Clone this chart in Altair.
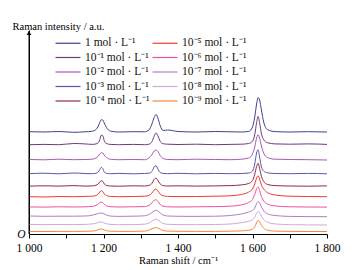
import altair as alt
import pandas as pd

# Raman shift grid (cm-1) at which the spectra were read
shift = [1000, 1040, 1080, 1120, 1150, 1170, 1180, 1186, 1190, 1194, 1198, 1202, 1208, 1218,
         1240, 1280, 1310, 1322, 1330, 1336, 1341, 1346, 1352, 1360, 1372, 1400, 1450, 1500,
         1540, 1570, 1590, 1600, 1606, 1611, 1615, 1619, 1624, 1630, 1640, 1660, 1700, 1750, 1800]

labels = ["1 mol · L⁻¹", "10⁻¹ mol · L⁻¹", "10⁻² mol · L⁻¹", "10⁻³ mol · L⁻¹", "10⁻⁴ mol · L⁻¹",
          "10⁻⁵ mol · L⁻¹", "10⁻⁶ mol · L⁻¹", "10⁻⁷ mol · L⁻¹", "10⁻⁸ mol · L⁻¹", "10⁻⁹ mol · L⁻¹"]
colors = ["#4a3c8c", "#6e3a78", "#a958b8", "#5b55b0", "#8b2a4a",
          "#f23a2e", "#f0509a", "#b47cc4", "#d7a6dc", "#f4893a"]

# vertical offset of each (stacked) spectrum
offsets = [102, 89.3, 74, 60, 47.6, 37, 26.6, 17, 8.8, 2.3]

s1 = [0.3, 0, 0.5, -0.3, 0.2, 0.8, 2.5, 6, 9.5, 12.3, 12, 9, 4.5, 1, 0, 0.3, 0.2, 2, 8, 14.5, 17.5, 14,
      6.5, 1.5, 2, 0.5, 0, 0.5, 0.2, 0, 0.6, 5, 15, 28, 34.4, 32, 22, 10, 2.5, 0.4, 0, 0.3, 0]
s2 = [0, 0.3, 0, 1.2, 0.8, 0.3, 0.8, 2, 5, 9.5, 9, 4, 1.2, 0.3, 0, 0.3, 0, 0.5, 3, 8.5, 11.7, 9,
      3.5, 1, 0.5, 0.2, 0.5, 0, 0.3, 0.5, 1.2, 3.5, 10, 22, 28.3, 22, 11, 5, 2, 0.8, 0.5, 0.8, 0.3]
s3 = [0.5, 0.2, 0.8, 0.3, 0.5, 0.8, 2, 4, 6, 7.3, 7, 5, 2.5, 0.8, 0.3, 0.5, 0.3, 2, 5.5, 9, 10, 8.5,
      4.5, 1.5, 0.5, 0.3, 0.8, 0.5, 0.3, 0.8, 2, 6, 13, 22, 25.3, 22, 14, 7, 2.5, 0.8, 0.5, 0.3, 0]
s4 = [0.3, 0.8, 0.2, 1, 0.5, 0.3, 0.8, 2, 4.5, 6.5, 5.5, 2, 0.7, 0.3, 0.6, 0.2, 0.5, 0.8, 2.5, 7, 8.3, 5,
      1.5, 0.6, 0.3, 0.7, 0.2, 0.6, 0.3, 0.5, 1, 3, 10, 21, 24.3, 17, 7, 3, 1.2, 0.5, 0.3, 0.6, 0.2]
s5 = [0.2, 0.6, 0.3, 0.8, 0.3, 0.5, 1.2, 2.5, 4.5, 5.7, 5, 2.5, 1, 0.4, 0.2, 0.6, 0.4, 1, 3, 7, 8.3, 6,
      2.5, 0.8, 0.4, 0.6, 0.3, 0.5, 0.8, 1.5, 3, 6, 12, 20, 23, 18, 10, 5, 2, 0.8, 0.4, 0.2, 0.5]
s6 = [0.3, 0, 0.5, 0.3, 0.6, 0.8, 1.5, 3, 5, 6.3, 5.5, 3, 1.5, 0.6, 0.3, 0.5, 0.8, 1.5, 4, 7, 8, 6,
      3, 1.2, 0.6, 0.4, 0.5, 0.8, 1.2, 2.5, 5, 8, 13, 19, 21.3, 18, 12, 8, 4.5, 2, 0.8, 0.5, 0.3]
s7 = [0.5, 0.3, 0.6, 0.4, 0.6, 1, 2, 3.5, 4.8, 5.3, 4.8, 3, 1.5, 0.7, 0.4, 0.6, 0.8, 2, 4.5, 7, 7.7, 6,
      3, 1.2, 0.6, 0.4, 0.6, 0.8, 1.2, 2.5, 5, 8, 13, 18.5, 20.4, 17, 11, 6.5, 3.5, 1.5, 0.6, 0.4, 0.3]
s8 = [1, 0.7, 0.8, 0.8, 1, 1.8, 2.8, 3.5, 3.9, 4, 3.7, 3, 2, 1, 0.6, 0.8, 1.2, 2.5, 4.5, 6, 6.7, 6,
      4, 2, 1, 0.7, 0.6, 0.8, 1.5, 3, 5, 6.5, 9, 13.5, 15.6, 14, 10, 6, 3.2, 1.5, 0.6, 0.4, 0.3]
s9 = [0.8, 0.6, 0.7, 0.6, 0.8, 1.3, 2, 2.8, 3.2, 3.3, 3, 2.3, 1.5, 0.8, 0.5, 0.6, 1, 2.2, 4, 5.5, 6, 5.2,
      3.5, 1.8, 0.9, 0.6, 0.5, 0.7, 1.2, 2.5, 4, 5.5, 8, 12, 13.8, 12.5, 9, 5.5, 3, 1.3, 0.5, 0.3, 0.2]
s10 = [0.3, 0.2, 0.3, 0.3, 0.4, 0.6, 1.2, 2, 2.5, 2.7, 2.5, 1.8, 1, 0.5, 0.3, 0.3, 0.6, 1.5, 3, 3.8, 4, 3.6,
       2.5, 1.2, 0.6, 0.4, 0.3, 0.3, 0.5, 0.8, 1.5, 2.5, 5, 9, 11.3, 10, 6.5, 3.5, 1.5, 0.6, 0.3, 0.2, 0.2]

spectra = [s1, s2, s3, s4, s5, s6, s7, s8, s9, s10]

rows = []
for lab, off, spec in zip(labels, offsets, spectra):
    for x, v in zip(shift, spec):
        rows.append({"shift": x, "intensity": off + v, "series": lab})
df = pd.DataFrame(rows)

SERIF = "Liberation Serif"

lines = alt.Chart(df).mark_line(strokeWidth=1, interpolate="monotone").encode(
    x=alt.X("shift:Q",
            scale=alt.Scale(domain=[1000, 1800], nice=False, zero=False),
            axis=alt.Axis(values=list(range(1000, 1801, 100)),
                          labelExpr="datum.value % 200 == 0 ? replace(format(datum.value, ','), ',', ' ') : ''",
                          title="Raman shift / cm⁻¹", grid=False, tickSize=4, labelFlush=False,
                          labelPadding=4, titlePadding=2)),
    y=alt.Y("intensity:Q",
            scale=alt.Scale(domain=[0, 204], nice=False),
            axis=alt.Axis(values=[0], labelExpr="'O'", ticks=False, grid=False,
                          labelFontStyle="italic", labelPadding=4,
                          title="Raman intensity / a.u.", titleAngle=0,
                          titleAlign="left", titleBaseline="alphabetic",
                          titleX=-17, titleY=-1)),
    color=alt.Color("series:N",
                    scale=alt.Scale(domain=labels, range=colors),
                    legend=alt.Legend(title=None, orient="none", legendX=32, legendY=6,
                                      columns=2, symbolType="M-2,0L2,0", symbolSize=156,
                                      symbolStrokeWidth=1.2, labelFont=SERIF,
                                      labelFontSize=11.5, labelOffset=10,
                                      rowPadding=1.5, columnPadding=0,
                                      gridAlign="all", labelColor="#111")),
    detail="series:N",
)

# explicit y-axis line with arrow head
yline = alt.Chart(pd.DataFrame({"a": [0]})).mark_rule(color="black", strokeWidth=1).encode(
    x=alt.value(0), y=alt.value(1), y2=alt.value(204))

arrow = alt.Chart(pd.DataFrame({"a": [0]})).mark_point(
    shape="triangle-up", filled=True, color="black",
    size=22, opacity=1).encode(x=alt.value(0), y=alt.value(3))

chart = alt.layer(lines, yline, arrow).properties(
    width=298, height=204,
    padding={"left": 21, "top": 22, "right": 19, "bottom": 36},
    autosize=alt.AutoSizeParams(type="none"),
).configure_view(stroke=None).configure_axis(
    domainColor="black", domainWidth=1, tickColor="black",
    labelFont=SERIF, labelFontSize=11.5, labelColor="black",
    titleFont=SERIF, titleFontSize=10.5, titleFontWeight="normal", titleColor="black",
)

chart.save("out.html", embed_options={"renderer": "svg", "actions": False})
